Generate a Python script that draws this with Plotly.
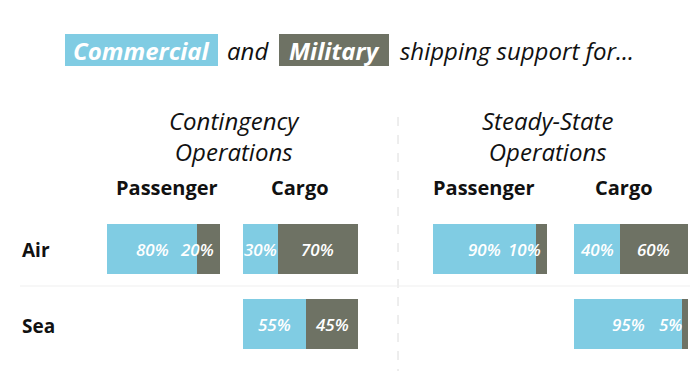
import plotly.graph_objects as go

# ---------------- data ----------------
categories = ["Air", "Sea"]
cont_pass_commercial = [80, None]
cont_pass_military = [20, None]
cont_cargo_commercial = [30, 55]
cont_cargo_military = [70, 45]
steady_pass_commercial = [90, None]
steady_pass_military = [10, None]
steady_cargo_commercial = [40, 95]
steady_cargo_military = [60, 5]

section_titles = ["Contingency<br>Operations", "Steady-State<br>Operations"]
column_titles = ["Passenger", "Cargo", "Passenger", "Cargo"]

# ---------------- style ----------------
W, H = 700, 371
BLUE = "#80CCE3"
GRAY = "#6E7264"
FONT = "Open Sans"

panels = [
    (cont_pass_commercial, cont_pass_military, (107, 220)),
    (cont_cargo_commercial, cont_cargo_military, (243, 358)),
    (steady_pass_commercial, steady_pass_military, (433, 547)),
    (steady_cargo_commercial, steady_cargo_military, (574, 688)),
]

def px(x):
    return x / W

def py(y):
    return 1 - y / H

fig = go.Figure()
layout = {}
annotations = []

for i, (com, mil, (x0, x1)) in enumerate(panels):
    ax = "x" if i == 0 else f"x{i+1}"
    axname = "xaxis" if i == 0 else f"xaxis{i+1}"
    fig.add_bar(x=com, y=categories, orientation="h", marker_color=BLUE,
                marker_line_width=0, xaxis=ax, yaxis="y", width=0.67,
                hoverinfo="skip", showlegend=False)
    fig.add_bar(x=mil, y=categories, orientation="h", marker_color=GRAY,
                marker_line_width=0, xaxis=ax, yaxis="y", width=0.67,
                hoverinfo="skip", showlegend=False)
    layout[axname] = dict(domain=[px(x0), px(x1)], range=[0, 100],
                          visible=False, anchor="y", fixedrange=True)
    for cat, c, m in zip(categories, com, mil):
        if c is None:
            continue
        for val, start in ((c, 0), (m, c)):
            lab_font = dict(family=FONT, size=17, color="white",
                            style="italic", weight=600)
            if val < 25 and start > 0:
                annotations.append(dict(x=100, y=cat, xref=ax, yref="y",
                                        text=f"{val}%", showarrow=False,
                                        xanchor="right", xshift=-4,
                                        font=lab_font))
            else:
                annotations.append(dict(x=start + val / 2, y=cat, xref=ax, yref="y",
                                        text=f"{val}%", showarrow=False,
                                        xanchor="center", font=lab_font))

# y axis: Air centred at 249 px, Sea at 324 px
ytop, ybot = 249 - 37.5, 324 + 37.5
layout["yaxis"] = dict(domain=[py(ybot), py(ytop)], range=[1.5, -0.5],
                       visible=False, anchor="x", fixedrange=True,
                       type="category", categoryorder="array",
                       categoryarray=categories)

# row labels
for cat, yc in zip(categories, (250, 326)):
    annotations.append(dict(x=px(20), y=py(yc), xref="paper", yref="paper",
                            text=cat, showarrow=False, xanchor="left",
                            yanchor="middle",
                            font=dict(family=FONT, size=19, color="#111",
                                      weight="bold")))

# column titles
col_centers = [167, 300, 484, 624]
for t, xc in zip(column_titles, col_centers):
    annotations.append(dict(x=px(xc), y=py(188), xref="paper", yref="paper",
                            text=t, showarrow=False, xanchor="center",
                            yanchor="middle",
                            font=dict(family=FONT, size=20, color="#111",
                                      weight="bold")))

# section titles
for t, xc in zip(section_titles, (235, 547)):
    annotations.append(dict(x=px(xc), y=py(136), xref="paper", yref="paper",
                            text=t, showarrow=False, xanchor="center",
                            yanchor="middle",
                            font=dict(family=FONT, size=24, color="#111",
                                      style="italic", weight=400)))

# title pieces
title_font = dict(family=FONT, size=24, style="italic")
annotations += [
    dict(x=px(141), y=py(50), xref="paper", yref="paper", text="<b>Commercial</b>",
         showarrow=False, xanchor="center", yanchor="middle",
         font=dict(**title_font, color="white")),
    dict(x=px(248), y=py(50), xref="paper", yref="paper", text="and",
         showarrow=False, xanchor="center", yanchor="middle",
         font=dict(**title_font, color="#111")),
    dict(x=px(334), y=py(50), xref="paper", yref="paper", text="<b>Military</b>",
         showarrow=False, xanchor="center", yanchor="middle",
         font=dict(**title_font, color="white")),
    dict(x=px(398), y=py(50), xref="paper", yref="paper",
         text="shipping support for...",
         showarrow=False, xanchor="left", yanchor="middle",
         font=dict(**title_font, color="#111")),
]

shapes = [
    dict(type="rect", xref="paper", yref="paper", x0=px(65), x1=px(218),
         y0=py(66), y1=py(34), fillcolor=BLUE, line_width=0, layer="below"),
    dict(type="rect", xref="paper", yref="paper", x0=px(279), x1=px(389),
         y0=py(66), y1=py(34), fillcolor=GRAY, line_width=0, layer="below"),
    dict(type="line", xref="paper", yref="paper", x0=px(398), x1=px(398),
         y0=py(117), y1=0, line=dict(color="#dcdcdc", width=1, dash="dash"),
         layer="below"),
    dict(type="line", xref="paper", yref="paper", x0=px(20), x1=px(690),
         y0=py(286), y1=py(286), line=dict(color="#efefef", width=1),
         layer="below"),
]

fig.update_layout(
    **layout,
    barmode="stack",
    width=W, height=H,
    margin=dict(l=0, r=0, t=0, b=0),
    paper_bgcolor="white", plot_bgcolor="white",
    annotations=annotations, shapes=shapes,
    showlegend=False,
)

fig.write_html("out.html",
               config={"displayModeBar": False},
               post_script="document.body.style.margin='0';"
                           "document.body.style.overflow='hidden';")
